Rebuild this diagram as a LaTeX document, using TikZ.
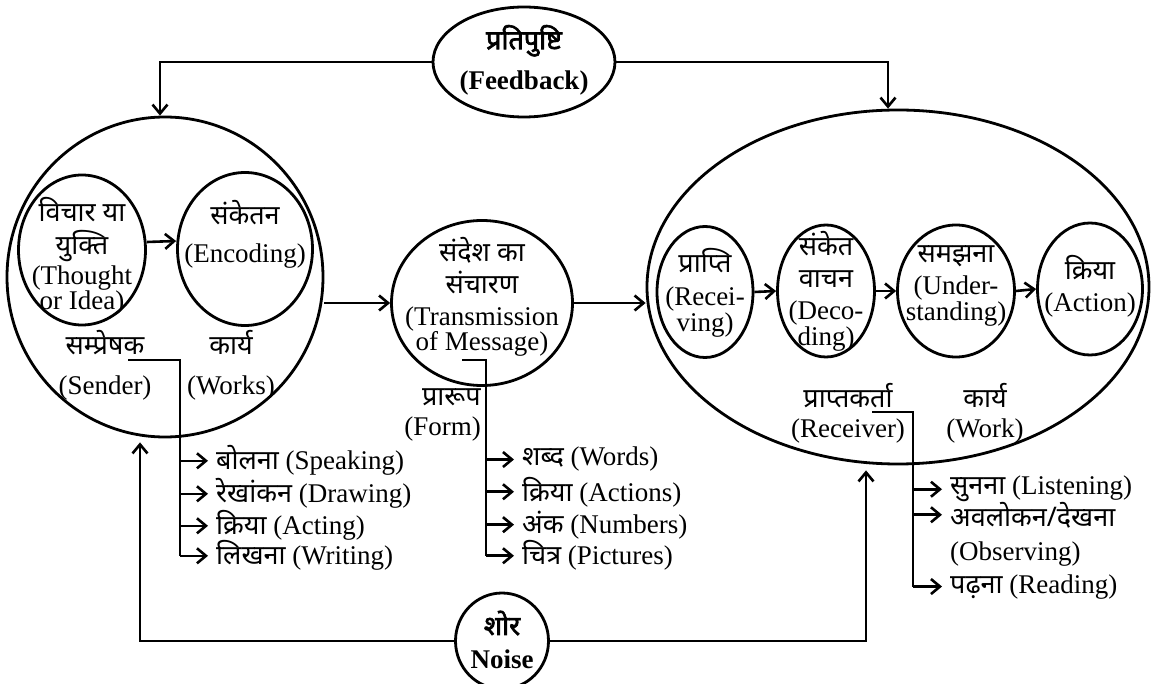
\documentclass[tikz,border=0pt]{standalone}
\usepackage{fontspec}
\setmainfont{Liberation Serif}
\newfontfamily\devfont[Script=Devanagari]{Noto Sans}
\newfontfamily\devboldfont[Script=Devanagari,FakeBold=2.5]{Noto Sans}
\usetikzlibrary{shapes.geometric,arrows.meta,calc}
\newcommand\Dv[1]{{\devfont #1}}
\newcommand\Dvb[1]{{\devboldfont #1}}
\newcommand\myfs{\fontsize{27}{25}\selectfont\lineskiplimit=-100pt\lineskip=0pt\relax}
\begin{document}
\begin{tikzpicture}[x=1pt,y=-1pt,
  shp/.style={draw, ellipse, line width=2.8pt, inner sep=0pt},
  txt/.style={align=center, inner sep=0pt, font=\myfs},
  lst/.style={anchor=base west, inner sep=0pt, font=\myfs},
  conn/.style={line width=2.6pt},
  arr/.style={conn, -{Straight Barb[length=9pt,width=15pt]}},
  brarr/.style={arr, shorten >=8pt},
]
\fill[white] (0,0) rectangle (1152,684);
\useasboundingbox (0,0) rectangle (1152,684);

% ---------- shapes ----------
\node[shp, minimum width=182pt, minimum height=110pt] (fb) at (524,62) {};
\node[shp, minimum width=93pt, minimum height=96pt] (noise) at (502,641) {};
\node[shp, minimum width=316pt, minimum height=320pt] (sender) at (165,277) {};
\node[shp, minimum width=127pt, minimum height=150pt] (thought) at (82,250) {};
\node[shp, minimum width=135pt, minimum height=153pt] (enc) at (245,249) {};
\node[shp, minimum width=181pt, minimum height=165pt] (trans) at (482,303) {};
\node[shp, minimum width=502pt, minimum height=354pt] (receiver) at (898,287) {};
\node[shp, minimum width=96pt, minimum height=131pt] (rec) at (705,292) {};
\node[shp, minimum width=97pt, minimum height=132pt] (dec) at (826,291) {};
\node[shp, minimum width=117pt, minimum height=132pt] (und) at (956,291) {};
\node[shp, minimum width=105pt, minimum height=132pt] (act) at (1090,289) {};

% ---------- texts in shapes ----------
\node[txt, font=\myfs\bfseries] (fbT) at (524,60) {\Dvb{प्रतिपुष्टि}\\[15pt](Feedback)};
\node[txt, font=\myfs\bfseries] (noiseT) at (502,640) {\Dvb{शोर}\\[9pt]Noise};
\node[txt] (thoughtT) at (82,256) {\Dv{विचार या}\\[8pt]\Dv{युक्ति}\\[5pt](Thought\\or Idea)};
\node[txt] (encT) at (245,234) {\Dv{संकेतन}\\[13pt](Encoding)};
\node[txt] (transT) at (482,297) {\Dv{संदेश का}\\[7pt]\Dv{संचारण}\\[7pt](Transmission\\of Message)};
\node[txt] (recT) at (705,293) {\Dv{प्राप्ति}\\[8pt](Recei-\\[1pt]ving)};
\node[txt] (decT) at (826,291) {\Dv{संकेत}\\[7pt]\Dv{वाचन}\\[7pt](Deco-\\[1pt]ding)};
\node[txt] (undT) at (956,286) {\Dv{समझना}\\[7pt](Under-\\[1pt]standing)};
\node[txt] (actT) at (1090,286) {\Dv{क्रिया}\\[7pt](Action)};

% ---------- labels ----------
\node[txt] (senderL) at (105,365) {\Dv{सम्प्रेषक}\\[15pt](Sender)};
\node[txt] (worksL) at (231,365) {\Dv{कार्य}\\[15pt](Works)};
\node[txt, align=right, anchor=east] (formL) at (481,415) {\Dv{प्रारूप}\\[5pt](Form)};
\node[txt] (receiverL) at (848,413) {\Dv{प्राप्तकर्ता}\\[5pt](Receiver)};
\node[txt] (workL) at (985,413) {\Dv{कार्य}\\[5pt](Work)};

% ---------- list items ----------
\node[lst] (s1) at (216,470) {\Dv{बोलना} (Speaking)};
\node[lst] (s2) at (216,503) {\Dv{रेखांकन} (Drawing)};
\node[lst] (s3) at (216,535) {\Dv{क्रिया} (Acting)};
\node[lst] (s4) at (216,565) {\Dv{लिखना} (Writing)};
\node[lst] (f1) at (522,466) {\Dv{शब्द} (Words)};
\node[lst] (f2) at (522,501) {\Dv{क्रिया} (Actions)};
\node[lst] (f3) at (522,533) {\Dv{अंक} (Numbers)};
\node[lst] (f4) at (522,565) {\Dv{चित्र} (Pictures)};
\node[lst] (r1) at (950,495) {\Dv{सुनना} (Listening)};
\node[lst] (r2) at (950,526) {\Dv{अवलोकन/देखना}};
\node[lst] (r2b) at (950,560) {(Observing)};
\node[lst] (r3) at (950,593) {\Dv{पढ़ना} (Reading)};

% ---------- main connectors ----------
\draw[arr] (fb.west) -| ([xshift=-5pt]sender.north);
\draw[arr] (fb.east) -| ([xshift=-10pt]receiver.north);
\draw[arr, shorten >=4pt] (noise.west) -| ([xshift=-25pt]sender.south);
\draw[arr, shorten >=5pt] (noise.east) -| ([xshift=-32pt]receiver.south);
\draw[arr] (sender.east |- trans.west) -- (trans.west);
\draw[arr] (trans.east) -- (trans.east -| receiver.west);
\draw[arr] ([yshift=8pt]thought.east) -- ([yshift=8pt]enc.west);
\draw[arr] (rec.east) -- (dec.west);
\draw[arr] (dec.east) -- (und.west);
\draw[arr] (und.east) -- (act.west);

% ---------- brackets ----------
\coordinate (sa) at (128,360);
\coordinate (sb) at (180,360);
\draw[conn] (sa) -- (sb) -- (sb |- s4.west);
\foreach \n in {s1,s2,s3,s4} \draw[brarr] (sb |- \n.west) -- (\n.west);

\coordinate (fa) at (462,360);
\coordinate (fbk) at (486,360);
\draw[conn] (fa) -- (fbk) -- (fbk |- f4.west);
\foreach \n in {f1,f2,f3,f4} \draw[brarr] (fbk |- \n.west) -- (\n.west);

\coordinate (ra) at (872,412);
\coordinate (rb) at (913,412);
\draw[conn] (ra) -- (rb) -- (rb |- r3.west);
\foreach \n in {r1,r2,r3} \draw[brarr] (rb |- \n.west) -- (\n.west);
\end{tikzpicture}
\end{document}
